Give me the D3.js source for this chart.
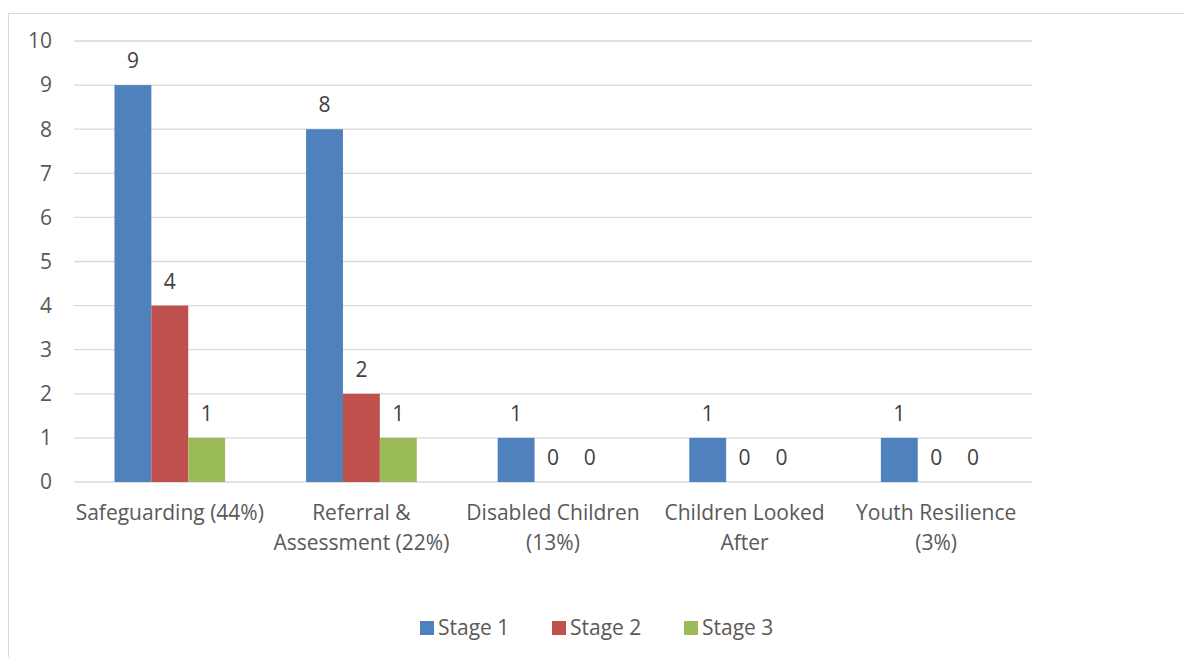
<!DOCTYPE html>
<html>
<head>
<meta charset="utf-8">
<script src="https://cdn.jsdelivr.net/npm/d3@7"></script>
<style>
    body { margin: 0; background: #fff; }
    svg text { font-family: "Open Sans", sans-serif; }
</style>
</head>
<body>
<div class="container"></div>
<script>
const categories = [
    ['Safeguarding (44%)'],
    ['Referral &', 'Assessment (22%)'],
    ['Disabled Children', '(13%)'],
    ['Children Looked', 'After'],
    ['Youth Resilience', '(3%)']
];
const seriesNames = ['Stage 1', 'Stage 2', 'Stage 3'];
const seriesColors = ['#4f81bd', '#c0504d', '#9bbb59'];
const stage1 = [9, 8, 1, 1, 1];
const stage2 = [4, 2, 0, 0, 0];
const stage3 = [1, 1, 0, 0, 0];
const yTicks = [0, 1, 2, 3, 4, 5, 6, 7, 8, 9, 10];

const width = 1184;
const height = 657;
const fontSize = 21;

const svg = d3.select('.container').append('svg').attr('width', width).attr('height', height);

// chart border (right and bottom edges run off the picture)
svg.append('path')
    .attr('d', 'M8.5,' + height + 'V13.5H' + width)
    .attr('fill', 'none').attr('stroke', '#d9d9d9').attr('stroke-width', 1);

const x0 = d3.scaleBand().domain(d3.range(categories.length)).range([74, 1032]);
const x1 = d3.scaleBand().domain(d3.range(seriesNames.length)).range([0, x0.bandwidth()]).paddingInner(0).paddingOuter(1.097);
const y = d3.scaleLinear().domain([0, 10]).range([482, 41]);

// grid
svg.append('g').selectAll('line').data(yTicks).enter().append('line')
    .attr('x1', 74).attr('x2', 1032)
    .attr('y1', d => y(d)).attr('y2', d => y(d))
    .attr('stroke', '#d9d9d9').attr('stroke-width', 1.3);

// y axis labels
svg.append('g').selectAll('text').data(yTicks).enter().append('text')
    .attr('x', 52).attr('y', d => y(d)).attr('dy', '0.35em')
    .attr('text-anchor', 'end').attr('font-size', fontSize).attr('fill', '#595959')
    .text(d => d);

const series = [stage1, stage2, stage3];

const groups = svg.append('g').selectAll('g').data(categories).enter().append('g')
    .attr('transform', (d, i) => 'translate(' + x0(i) + ',0)');

groups.each(function(cat, i) {
    const g = d3.select(this);
    series.forEach((vals, s) => {
        const v = vals[i];
        if (v > 0)
        {
            g.append('rect')
                .attr('x', x1(s)).attr('width', x1.bandwidth())
                .attr('y', y(v)).attr('height', y(0) - y(v))
                .attr('fill', seriesColors[s]);
        }
        g.append('text')
            .attr('x', x1(s) + x1.bandwidth() / 2)
            .attr('y', y(v) - 17)
            .attr('text-anchor', 'middle').attr('font-size', fontSize).attr('fill', '#404040')
            .text(v);
    });

    // category label
    const label = g.append('text')
        .attr('text-anchor', 'middle').attr('font-size', fontSize).attr('fill', '#595959');
    cat.forEach((line, k) => {
        label.append('tspan').attr('x', x0.bandwidth() / 2).attr('y', 520 + k * 30).text(line);
    });
});

// legend
const legendX = [420, 552, 684];
const legend = svg.append('g').selectAll('g').data(seriesNames).enter().append('g')
    .attr('transform', (d, i) => 'translate(' + legendX[i] + ',621)');

legend.append('rect').attr('width', 14).attr('height', 14).attr('fill', (d, i) => seriesColors[i]);
legend.append('text').attr('x', 18).attr('y', 14).attr('font-size', fontSize).attr('fill', '#595959').text(d => d);
</script>
</body>
</html>
